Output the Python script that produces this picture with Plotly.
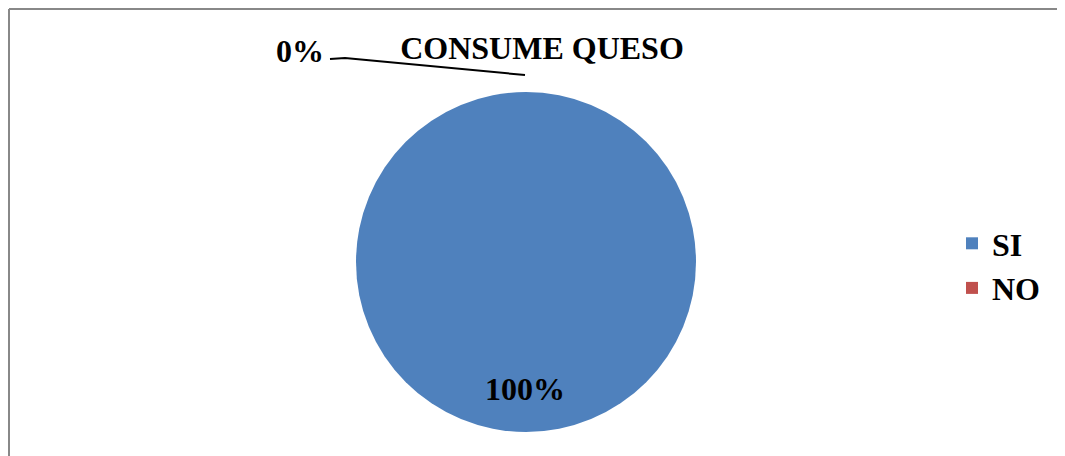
import plotly.graph_objects as go

title = "CONSUME QUESO"
categories = ["SI", "NO"]
values = [100, 0]
colors = ["#4F81BD", "#C0504D"]

W, H = 1065, 456
FONT = "Liberation Serif"
OFF = 8  # page body margin offset


def px(x):
    return (x - OFF) / W


def py(y):
    return 1 - (y - OFF) / H


fig = go.Figure()
fig.add_trace(go.Pie(
    labels=categories, values=values, sort=False, direction="clockwise",
    marker=dict(colors=colors, line=dict(width=0)),
    textinfo="none", hoverinfo="label+percent",
    domain=dict(x=[px(356), px(696)], y=[py(432), py(92)]),
    showlegend=True,
))

total = sum(values)
pct = [f"{round(v * 100 / total)}%" for v in values]

fig.update_layout(
    width=W, height=H,
    margin=dict(l=0, r=0, t=0, b=0),
    paper_bgcolor="white", plot_bgcolor="white",
    font=dict(family=FONT, size=32, color="black"),
    title=dict(text=f"<b>{title}</b>", x=px(542), xanchor="center",
               y=py(48), yanchor="middle",
               font=dict(family=FONT, size=32, color="black")),
    legend=dict(x=px(952), xanchor="left", y=py(266), yanchor="middle",
                font=dict(family=FONT, size=32, color="black", weight="bold"),
                itemwidth=30, tracegroupgap=0,
                bgcolor="rgba(0,0,0,0)"),
    annotations=[
        dict(text=f"<b>{pct[0]}</b>", x=px(525), y=py(389), xref="paper", yref="paper",
             xanchor="center", yanchor="middle",
             showarrow=False, font=dict(family=FONT, size=32, color="black")),
        dict(text=f"<b>{pct[1]}</b>", x=px(300), y=py(51), xref="paper", yref="paper",
             xanchor="center", yanchor="middle",
             showarrow=False, font=dict(family=FONT, size=32, color="black")),
    ],
    shapes=[
        dict(type="path", xref="paper", yref="paper",
             path=f"M {px(330)},{py(59)} L {px(345)},{py(58)} L {px(525)},{py(75)}",
             line=dict(color="black", width=2)),
        dict(type="line", xref="paper", yref="paper",
             x0=px(9), x1=1.0, y0=py(9), y1=py(9),
             line=dict(color="#888888", width=2)),
        dict(type="line", xref="paper", yref="paper",
             x0=px(9), x1=px(9), y0=py(9), y1=0,
             line=dict(color="#888888", width=2)),
    ],
)

fig.write_html("out.html")
